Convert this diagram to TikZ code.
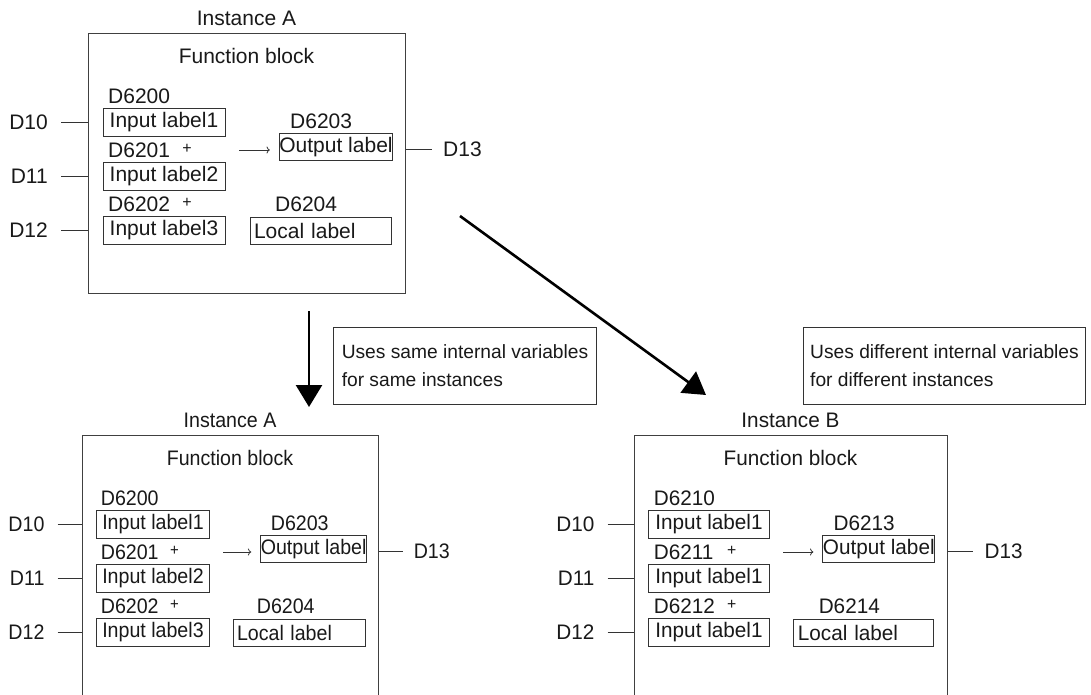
\documentclass[tikz,border=0pt]{standalone}
\usepackage{fontspec}
\setmainfont{Liberation Sans}
\usetikzlibrary{arrows.meta,positioning}

\tikzset{
  fbframe/.style={draw=black!75, line width=1.1pt, minimum width=317pt, minimum height=#1, anchor=north west, inner sep=0pt},
  lblbox/.style={draw=black!80, line width=1pt, inner sep=0pt, minimum height=27.5pt},
  addr/.style={anchor=west, inner sep=0pt},
  wire/.style={draw=black!80, line width=0.8pt},
  bigarrow/.style={line width=2.6pt, -{Triangle[length=22pt,width=26pt]}},
  notebox/.style={draw=black!80, line width=1pt, anchor=north west, align=left, inner xsep=0pt, minimum height=77pt, font=\fontsize{19.2}{28}\selectfont}
}

% one function block: name, shift, xscale, title, digit, label 2, label 3, frame height
\newcommand\fblock[8]{%
\begin{scope}[shift={#2}, xscale=#3, transform shape]
  % frame and headings
  \node[fbframe=#8] (#1-frame) at (0,0) {};
  \node (#1-title) at (158.5,-15) {#4};
  \node (#1-fb) at (158.5,23) {Function block};
  % input labels
  \foreach \i/\lab in {0/1,1/#6,2/#7} {
    \node[lblbox, minimum width=122pt] (#1-in\i) at (76,{89.5+54*\i}) {Input label\lab};
    \node[addr] (#1-ad\i) at (20,{63+54*\i}) {D62#5\i};
    \node[addr, anchor=east] (#1-d\i) at (-40,{89.5+54*\i}) {D1\i};
    \draw[wire, shorten <=13pt] (#1-d\i.east) -- (#1-d\i.east -| #1-frame.west);
  }
  \node[font=\fontsize{16}{16}\selectfont] (#1-plus1) at (99,116) {+};
  \node[font=\fontsize{16}{16}\selectfont] (#1-plus2) at (99,170) {+};
  % output label
  \node[lblbox, minimum width=110pt] (#1-out) at (248,114) {Output label};
  \node[addr] (#1-ad3) at (202,88) {D62#53};
  \coordinate (#1-src) at (151,117);
  \draw[wire, ->, shorten >=9pt] (#1-src) -- (#1-src -| #1-out.west);
  \node[addr] (#1-d13) at (355,116) {D13};
  \draw[wire, shorten >=11pt] (#1-d13.west -| #1-frame.east) -- (#1-d13.west);
  % local label
  \node[lblbox, minimum width=141pt, text width=133pt, inner xsep=4pt, align=left] (#1-loc) at (232.5,198) {Local label};
  \node[addr] (#1-ad4) at (187,171) {D62#54};
\end{scope}}

\begin{document}
\begin{tikzpicture}[x=1pt, y=-1pt, font=\fontsize{21}{25}\selectfont, text=black!90]
\useasboundingbox (0,0) rectangle (1091,695);
\fill[white] (0,0) rectangle (1091,695);
\clip (0,0) rectangle (1091,695);
% the three instances
\fblock{A}{(88,33)}{1}{Instance A}{0}{2}{3}{260}
\fblock{C}{(82,435)}{0.934}{Instance A}{0}{2}{3}{300}
\fblock{B}{(634,435)}{0.987}{Instance B}{1}{1}{1}{300}
% notes
\node[notebox, minimum width=263pt] (same) at (333,327) {Uses same internal variables\\for same instances};
\node[notebox, minimum width=282pt] (diff) at (803,327) {Uses different internal variables\\for different instances};
% big arrows
\coordinate (keep-s) at (309,311);
\coordinate (keep-e) at (309,407);
\draw[bigarrow] (keep-s) -- (keep-e);
\coordinate (diff-s) at (460,216);
\coordinate (diff-e) at (706,395);
\draw[bigarrow] (diff-s) -- (diff-e);
\end{tikzpicture}
\end{document}
